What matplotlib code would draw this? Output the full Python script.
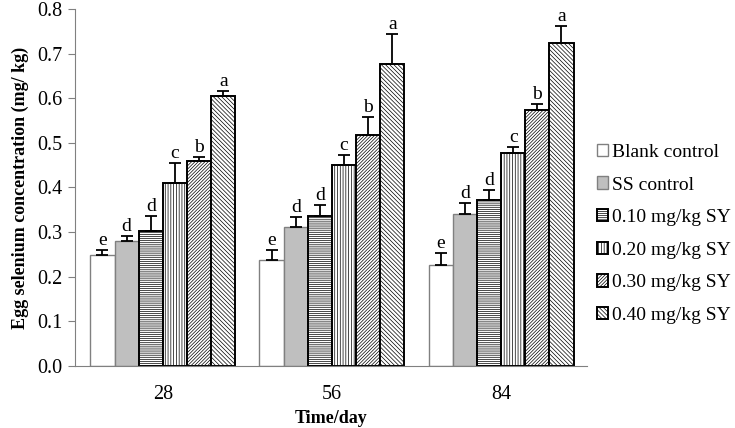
import numpy as np
import matplotlib.pyplot as plt

plt.rcParams['font.family'] = ['Liberation Serif', 'DejaVu Serif']
plt.rcParams['hatch.linewidth'] = 0.5

days = ["28", "56", "84"]
groups = ["Blank control", "SS control", "0.10 mg/kg SY",
          "0.20 mg/kg SY", "0.30 mg/kg SY", "0.40 mg/kg SY"]

# mean values per group, one list per day
means = {
    "28": [0.249, 0.280, 0.303, 0.409, 0.460, 0.606],
    "56": [0.238, 0.312, 0.336, 0.451, 0.517, 0.676],
    "84": [0.226, 0.340, 0.371, 0.478, 0.573, 0.724],
}
errs = {
    "28": [0.011, 0.011, 0.033, 0.045, 0.009, 0.011],
    "56": [0.021, 0.021, 0.024, 0.022, 0.042, 0.068],
    "84": [0.027, 0.026, 0.023, 0.013, 0.015, 0.038],
}
letters = {
    "28": ["e", "d", "d", "c", "b", "a"],
    "56": ["e", "d", "d", "c", "b", "a"],
    "84": ["e", "d", "d", "c", "b", "a"],
}

faces = ["white", "#bfbfbf", "white", "white", "white", "white"]
edges = ["#808080", "#808080", "black", "black", "black", "black"]
hatches = [None, None, "--------", "||||||", "//////////", "\\\\\\\\\\\\\\\\"]
lws = [1.0, 1.0, 1.4, 1.4, 1.4, 1.4]

fig = plt.figure(figsize=(7.35, 4.28), dpi=100)
ax = fig.add_axes([0.102, 0.145, 0.697, 0.834])

x = np.arange(1, len(days) + 1)
w = 0.143
for i, g in enumerate(groups):
    vals = [means[d][i] for d in days]
    er = [errs[d][i] for d in days]
    pos = x + (i - 2.5) * w
    ax.bar(pos, vals, width=w, color=faces[i], edgecolor=edges[i],
           hatch=hatches[i], linewidth=lws[i], label=g, zorder=2)
    ax.errorbar(pos, vals, yerr=[np.zeros(len(er)), er], fmt="none",
                ecolor="black", elinewidth=1.3, capsize=4, capthick=1.3, zorder=3)
    for p, v, e, d in zip(pos, vals, er, days):
        ax.text(p, v + e + 0.002, letters[d][i], ha="center", va="bottom",
                fontsize=14)

ax.set_xlim(0.48, 3.51)
ax.set_ylim(0, 0.8)
ax.set_yticks(np.arange(0, 0.81, 0.1))
ax.set_yticklabels([f"{t:.1f}" for t in np.arange(0, 0.81, 0.1)], fontsize=14.5)
ax.set_xticks(x)
ax.set_xticklabels(days, fontsize=14.5)
ax.tick_params(axis="x", length=0, pad=14)
ax.tick_params(axis="y", direction="out", length=5, color="#808080", pad=4)

for s in ["top", "right"]:
    ax.spines[s].set_visible(False)
ax.spines["left"].set_color("#808080")
ax.spines["bottom"].set_color("#808080")

ax.set_xlabel("Time/day", fontsize=13, fontweight="bold", labelpad=4)
ax.set_ylabel("Egg selenium concentration (mg/ kg)", fontsize=13,
              fontweight="bold", labelpad=6)

ax.legend(loc="center left", bbox_to_anchor=(0.992, 0.37), frameon=False,
          fontsize=14, handlelength=0.6, handleheight=0.6, handletextpad=0.2,
          labelspacing=0.8, borderaxespad=0.3)

fig.savefig("out.png", dpi=100)
